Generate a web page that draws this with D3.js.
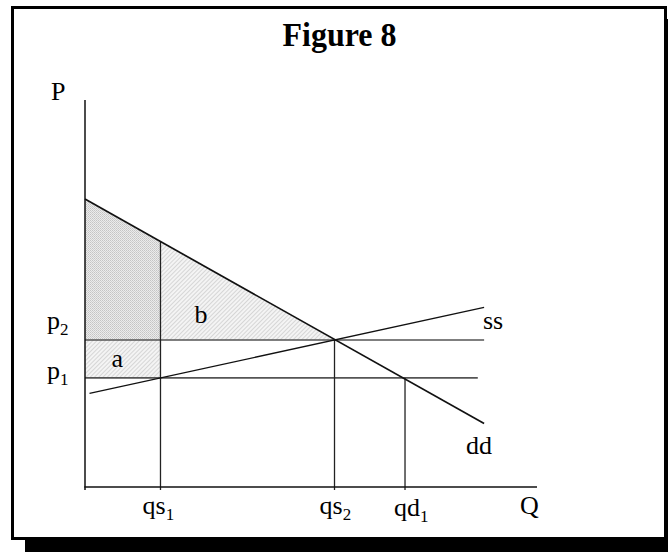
<!DOCTYPE html>
<html>
<head>
<meta charset="utf-8">
<script src="https://cdn.jsdelivr.net/npm/d3@7"></script>
<style>
  html, body { margin: 0; padding: 0; background: #fff; }
  svg { display: block; }
  text { font-family: "Liberation Serif", "Times New Roman", serif; fill: #000; }
</style>
</head>
<body>
<svg id="chart" width="668" height="552"></svg>
<script>
// ---- data (model units) ----
const title = "Figure 8";
const demandLine = [[0, 74.4], [88.3, 16.4]];     // dd
const supplyLine = [[1.0, 24.2], [88.3, 46.4]];   // ss
const priceLevels = [
  { name: "p", sub: "2", value: 38.0, end: 88.3 },
  { name: "p", sub: "1", value: 28.2, end: 86.9 }
];
const quantities = [
  { name: "qs", sub: "1", value: 16.7, top: 63.4 },  // top = demand price at qs1
  { name: "qs", sub: "2", value: 55.2, top: 38.0 },
  { name: "qd", sub: "1", value: 70.8, top: 28.2 }
];
const axisLabels = { y: "P", x: "Q" };
const curveLabels = { supply: "ss", demand: "dd" };
const areaLabels = { a: "a", b: "b" };

// ---- layout ----
const svg = d3.select("#chart");
const x = d3.scaleLinear().domain([0, 100]).range([85, 537]);
const y = d3.scaleLinear().domain([0, 100]).range([487, 100]);
const line = d3.line().x(d => x(d[0])).y(d => y(d[1]));

// frame with shadow
svg.append("rect").attr("x", 25).attr("y", 19).attr("width", 660).attr("height", 533).attr("fill", "#000");
svg.append("rect").attr("x", 12.5).attr("y", 7.5).attr("width", 653).attr("height", 531)
  .attr("fill", "#fff").attr("stroke", "#000").attr("stroke-width", 3);

// patterns
const defs = svg.append("defs");
const pd = defs.append("pattern").attr("id", "dots").attr("patternUnits", "userSpaceOnUse")
  .attr("width", 2).attr("height", 2);
pd.append("rect").attr("width", 2).attr("height", 2).attr("fill", "#ebebeb");
pd.append("rect").attr("width", 1).attr("height", 1).attr("fill", "#c4c4c4");
pd.append("rect").attr("x", 1).attr("y", 1).attr("width", 1).attr("height", 1).attr("fill", "#cfcfcf");
const pg = defs.append("pattern").attr("id", "diag").attr("patternUnits", "userSpaceOnUse")
  .attr("width", 3).attr("height", 3).attr("patternTransform", "rotate(45)");
pg.append("rect").attr("width", 3).attr("height", 3).attr("fill", "#f4f4f4");
pg.append("rect").attr("width", 1).attr("height", 3).attr("fill", "#d6d6d6");

const p2 = priceLevels[0].value, p1 = priceLevels[1].value;
const qs1 = quantities[0], qs2 = quantities[1], qd1 = quantities[2];

// shaded areas
svg.append("path").attr("fill", "url(#dots)")
  .attr("d", line([[0, demandLine[0][1]], [qs1.value, qs1.top], [qs1.value, p2], [0, p2]]) + "Z");
svg.append("path").attr("fill", "url(#diag)")
  .attr("d", line([[qs1.value, qs1.top], [qs2.value, p2], [qs1.value, p2]]) + "Z");
svg.append("path").attr("fill", "url(#diag)")
  .attr("d", line([[0, p2], [qs1.value, p2], [qs1.value, p1], [0, p1]]) + "Z");

// horizontal price lines
svg.selectAll(".hl").data(priceLevels).join("line")
  .attr("x1", x(0)).attr("x2", d => x(d.end))
  .attr("y1", d => y(d.value)).attr("y2", d => y(d.value))
  .attr("stroke", "#555").attr("stroke-width", 1.6);

// vertical quantity lines
svg.selectAll(".vl").data(quantities).join("line")
  .attr("x1", d => x(d.value)).attr("x2", d => x(d.value))
  .attr("y1", d => y(d.top)).attr("y2", y(0) + 3)
  .attr("stroke", "#222").attr("stroke-width", 1.3);

// supply and demand
svg.append("path").attr("d", line(supplyLine)).attr("stroke", "#111").attr("stroke-width", 1.3).attr("fill", "none");
svg.append("path").attr("d", line(demandLine)).attr("stroke", "#111").attr("stroke-width", 1.7).attr("fill", "none");

// axes
svg.append("line").attr("x1", x(0)).attr("x2", x(0)).attr("y1", y(100)).attr("y2", y(0) + 3)
  .attr("stroke", "#111").attr("stroke-width", 1.5);
svg.append("line").attr("x1", x(0) - 0.75).attr("x2", x(100)).attr("y1", y(0)).attr("y2", y(0))
  .attr("stroke", "#111").attr("stroke-width", 1.5);

// title
svg.append("text").attr("x", 282.5).attr("y", 46).attr("font-size", 34).attr("font-weight", "bold")
  .attr("textLength", 114).attr("lengthAdjust", "spacingAndGlyphs").text(title);

// axis labels
svg.append("text").attr("x", 51).attr("y", 100).attr("font-size", 26).text(axisLabels.y);
svg.append("text").attr("x", 520).attr("y", 514).attr("font-size", 26).text(axisLabels.x);

function subText(sel, d, fs) {
  sel.append("tspan").text(d.name);
  sel.append("tspan").attr("dy", 6).attr("font-size", fs).text(d.sub);
}
// price labels
const pLabelY = [329, 378.5];
priceLevels.forEach((d, i) => {
  const t = svg.append("text").attr("x", 47).attr("y", pLabelY[i]).attr("font-size", 26);
  subText(t, d, 17);
});
// quantity labels
const qLabelX = [142.5, 319.5, 394];
const qLabelY = [514, 514, 516];
quantities.forEach((d, i) => {
  const t = svg.append("text").attr("x", qLabelX[i]).attr("y", qLabelY[i]).attr("font-size", 26);
  subText(t, d, 17);
});

// curve labels
svg.append("text").attr("x", 483).attr("y", 329).attr("font-size", 26).text(curveLabels.supply);
svg.append("text").attr("x", 466).attr("y", 454).attr("font-size", 26).text(curveLabels.demand);
// area labels
svg.append("text").attr("x", 111.5).attr("y", 366.5).attr("font-size", 26).text(areaLabels.a);
svg.append("text").attr("x", 194.5).attr("y", 323).attr("font-size", 26).text(areaLabels.b);
</script>
</body>
</html>
